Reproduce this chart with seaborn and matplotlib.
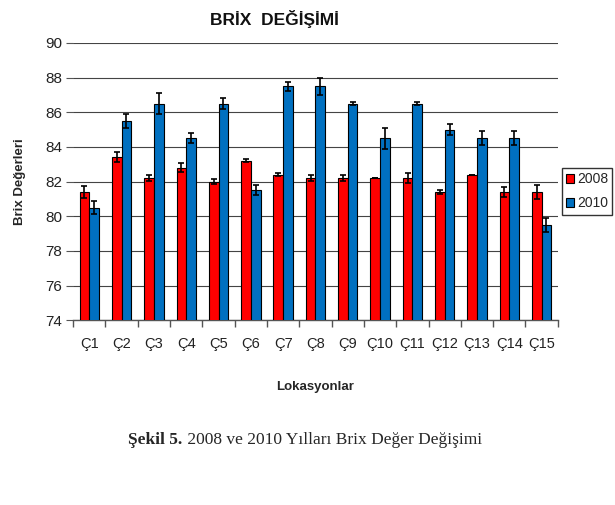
import matplotlib
matplotlib.use("Agg")
import matplotlib.pyplot as plt
import seaborn as sns
import pandas as pd
import numpy as np

# Data
locations = ["Ç1", "Ç2", "Ç3", "Ç4", "Ç5", "Ç6", "Ç7", "Ç8", "Ç9", "Ç10",
             "Ç11", "Ç12", "Ç13", "Ç14", "Ç15"]
brix_2008 = [81.4, 83.4, 82.2, 82.8, 82.0, 83.2, 82.4, 82.2, 82.2, 82.2,
             82.2, 81.4, 82.4, 81.4, 81.4]
brix_2010 = [80.5, 85.5, 86.5, 84.5, 86.5, 81.5, 87.5, 87.5, 86.5, 84.5,
             86.5, 85.0, 84.5, 84.5, 79.5]
err_2008 = [0.35, 0.3, 0.15, 0.25, 0.15, 0.1, 0.1, 0.15, 0.15, 0.0,
            0.3, 0.1, 0.0, 0.3, 0.4]
err_2010 = [0.4, 0.4, 0.6, 0.3, 0.3, 0.3, 0.25, 0.5, 0.1, 0.6,
            0.1, 0.3, 0.4, 0.4, 0.4]
years = ["2008", "2010"]

df = pd.DataFrame({
    "loc": locations * 2,
    "year": [years[0]] * len(locations) + [years[1]] * len(locations),
    "brix": brix_2008 + brix_2010,
    "err": err_2008 + err_2010,
})

sns.set_style("white")
plt.rcParams["font.family"] = ["Liberation Sans", "DejaVu Sans"]

fig = plt.figure(figsize=(6.15, 5.05), dpi=100)
ax = fig.add_axes([0.119, 0.366, 0.788, 0.549])

palette = {"2008": "#ff0000", "2010": "#0070c0"}
sns.barplot(data=df, x="loc", y="brix", hue="year", order=locations,
            hue_order=years, palette=palette, errorbar=None, width=0.6,
            edgecolor="black", linewidth=0.8, saturation=1, ax=ax, zorder=3)

# error bars at bar centres
for cont, yr in zip(ax.containers, years):
    sub = df[df["year"] == yr].set_index("loc").loc[locations]
    xs = [p.get_x() + p.get_width() / 2 for p in cont.patches]
    ax.errorbar(xs, sub["brix"], yerr=sub["err"], fmt="none", ecolor="black",
                elinewidth=1.2, capsize=2.5, capthick=1.2, zorder=4)

ax.set_ylim(74, 90)
ax.set_yticks(np.arange(74, 91, 2))
ax.set_xlim(-0.5, len(locations) - 0.5)
ax.grid(axis="y", color="#444444", linewidth=0.8, zorder=0)
ax.set_axisbelow(True)
for s in ["top", "right", "left"]:
    ax.spines[s].set_visible(False)
ax.spines["bottom"].set_color("#555555")
ax.spines["bottom"].set_linewidth(1.0)

ax.tick_params(axis="y", which="major", left=True, length=5, color="#555555",
               labelsize=11, labelcolor="#222222", pad=3)
ax.tick_params(axis="x", which="major", length=0, labelsize=10.5,
               labelcolor="#222222", pad=12)
ax.set_xticks(np.arange(-0.5, len(locations), 1), minor=True)
ax.tick_params(axis="x", which="minor", bottom=True, length=5,
               color="#555555", width=1)

ax.set_xlabel("Lokasyonlar", fontsize=9.5, fontweight="bold", labelpad=22)
ax.set_ylabel("Brix Değerleri", fontsize=9.5, fontweight="bold", labelpad=14)

fig.text(0.447, 0.963, "BRİX  DEĞİŞİMİ", ha="center", va="center",
         fontsize=12.5, fontweight="bold", color="#111111")

handles, labels = ax.get_legend_handles_labels()
ax.legend(handles, labels, loc="center left", bbox_to_anchor=(1.008, 0.465),
          frameon=True, fancybox=False, edgecolor="black", fontsize=10,
          handlelength=0.6, handleheight=0.6, handletextpad=0.2,
          borderpad=0.3, labelspacing=0.75, borderaxespad=0)

# caption: bold figure number followed by regular text
cap_y = 1 - 440 / 505
bold = fig.text(0, cap_y, "Şekil 5.", ha="left", va="center", fontsize=12.5,
                fontweight="bold", family=["Liberation Serif"])
rest = fig.text(0, cap_y, " 2008 ve 2010 Yılları Brix Değer Değişimi",
                ha="left", va="center", fontsize=12.5,
                family=["Liberation Serif"])
renderer = fig.canvas.get_renderer()
wb = bold.get_window_extent(renderer).width
wr = rest.get_window_extent(renderer).width
x0 = 305 - (wb + wr) / 2
bold.set_x(x0 / 615)
rest.set_x((x0 + wb) / 615)

fig.savefig("out.png", dpi=100)
